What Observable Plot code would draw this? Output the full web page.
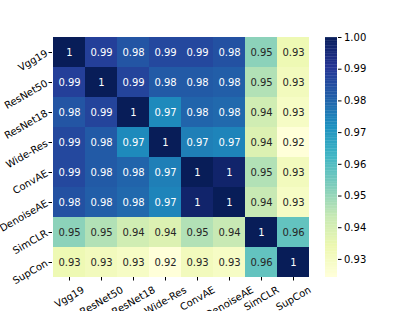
<!DOCTYPE html>
<html><head><meta charset="utf-8">
<script src="https://cdn.jsdelivr.net/npm/d3@7"></script>
<script src="https://cdn.jsdelivr.net/npm/@observablehq/plot@0.6"></script>
<style>
body{margin:0;background:#fff;}
#wrap{position:relative;width:415px;height:311px;overflow:hidden;font-family:"DejaVu Sans",sans-serif;}
#wrap svg{position:absolute;top:0;}
</style></head><body><div id="wrap"></div>
<script>
const models = ["Vgg19","ResNet50","ResNet18","Wide-Res","ConvAE","DenoiseAE","SimCLR","SupCon"];
const sim = [
  [1.000,0.988,0.983,0.986,0.986,0.984,0.951,0.933],
  [0.988,1.000,0.987,0.982,0.982,0.981,0.946,0.931],
  [0.983,0.987,1.000,0.973,0.980,0.979,0.941,0.929],
  [0.986,0.982,0.973,1.000,0.975,0.974,0.938,0.924],
  [0.986,0.982,0.980,0.975,1.000,0.997,0.946,0.931],
  [0.984,0.981,0.979,0.974,0.997,1.000,0.943,0.929],
  [0.951,0.946,0.941,0.938,0.946,0.943,1.000,0.957],
  [0.933,0.931,0.929,0.924,0.931,0.929,0.957,1.000]
];
const colorTicks = [0.93,0.94,0.95,0.96,0.97,0.98,0.99,1.00];
const vmin = 0.9243, vmax = 1.0;
const ylgnbu = ["#ffffd9","#edf8b1","#c7e9b4","#7fcdbb","#41b6c4","#1d91c0","#225ea8","#253494","#081d58"];

const cells = [];
models.forEach((r,i)=>models.forEach((c,j)=>cells.push({row:r,col:c,v:sim[i][j]})));
const colorOpts = {type:"linear", domain: ylgnbu.map((_,k)=>vmin+(vmax-vmin)*k/8), range: ylgnbu, clamp:true};
const fmt = d3.format(".2~g");

// measure label widths for matplotlib-like centred rotated x labels
const ctx = document.createElement("canvas").getContext("2d");
ctx.font = "10px 'DejaVu Sans'";
const xLabelMarks = models.map(m => {
  const w = ctx.measureText(m).width;
  const H = w * 0.5 + 9;
  return Plot.text([m], {x: d => d, frameAnchor: "bottom", dy: 7 + H / 2, rotate: -30,
    textAnchor: "middle", lineAnchor: "middle", fontSize: 10, fill: "#000"});
});

const main = Plot.plot({
  width:415, height:311,
  marginLeft:52, marginRight:106, marginTop:37, marginBottom:34,
  style:{fontFamily:"DejaVu Sans, sans-serif", fontSize:"10px", color:"#000", overflow:"visible"},
  x:{domain:models, padding:0, label:null, axis:null},
  y:{domain:models, padding:0, label:null, tickSize:3.5, tickPadding:2, tickRotate:-30},
  color:colorOpts,
  marks:[
    Plot.cell(cells,{x:"col",y:"row",fill:"v",inset:0}),
    Plot.text(cells,{x:"col",y:"row",text:d=>fmt(d.v),fontSize:10,
      fill:d=>d.v>0.965?"#ffffff":"#262626"}),
    Plot.axisX({tickSize:3.5, tickFormat:()=>"", label:null}),
    ...xLabelMarks
  ]
});
const stops = d3.range(vmin, vmax, 0.0005);
const bar = Plot.plot({
  width:75, height:311,
  marginLeft:0, marginRight:63, marginTop:37, marginBottom:34,
  style:{fontFamily:"DejaVu Sans, sans-serif", fontSize:"10px", color:"#000"},
  x:{domain:[0,1], axis:null},
  y:{domain:[vmin,vmax], axis:"right", ticks:colorTicks, tickFormat:d3.format(".2f"), tickSize:3.5, tickPadding:3, label:null},
  color:colorOpts,
  marks:[
    Plot.rectY(stops,{x1:0,x2:1,y1:d=>d,y2:d=>Math.min(d+0.0006,vmax),fill:d=>d})
  ]
});
bar.style.left = "325px";
main.style.left = "0px";
const w = document.getElementById("wrap");
w.appendChild(main); w.appendChild(bar);
</script></body></html>
